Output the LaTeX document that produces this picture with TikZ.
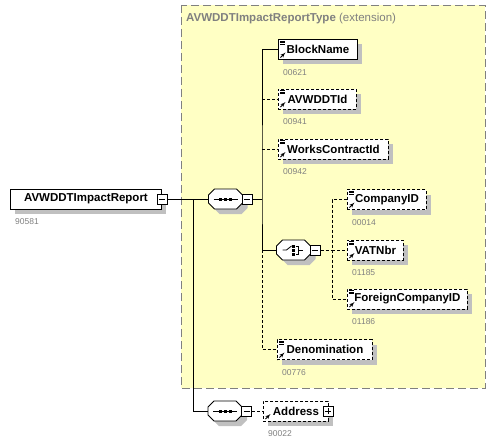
\documentclass[tikz,border=0pt]{standalone}
\usepackage{fontspec}
\setmainfont{Liberation Sans}
\usetikzlibrary{arrows}
\definecolor{extfill}{RGB}{255,255,196}
\definecolor{idgray}{RGB}{128,128,128}
\definecolor{shadowgray}{RGB}{192,192,192}
\tikzstyle{every node}=[font=\fontsize{11.5}{13}\selectfont\bfseries]
\tikzstyle{shadowfill}=[fill=shadowgray]
\tikzstyle{elem}=[rectangle,
                  draw,
                  fill=white,
                  line width=.9pt,
                  minimum height=20pt,
                  inner sep=0pt,
                  anchor=west]
\tikzstyle{ghost}=[rectangle,
                   shadowfill,
                   minimum height=20pt,
                   inner sep=0pt,
                   anchor=west]
\tikzstyle{opt}=[dash pattern=on 3pt off 2pt]
\tikzstyle{refdoc}=[path picture={
    \foreach \dy in {1.5,3,4.5}
      \draw[solid,line width=.7pt] ([xshift=1.5pt,yshift=-\dy pt]path picture bounding box.north west) -- ++(5pt,0pt);
    \draw[solid,line width=.8pt,-latex'] ([xshift=2pt,yshift=2pt]path picture bounding box.south west) -- ++(5pt,5pt);
  }]
\tikzstyle{refonly}=[path picture={
    \draw[solid,line width=.8pt,-latex'] ([xshift=2pt,yshift=2pt]path picture bounding box.south west) -- ++(5pt,5pt);
  }]
\tikzstyle{idtag}=[font=\fontsize{8.5}{10}\selectfont,
                   text=idgray,
                   anchor=west,
                   inner sep=0pt]
\tikzstyle{minusbox}=[rectangle,
                      draw,
                      fill=white,
                      line width=.8pt,
                      minimum size=10pt,
                      inner sep=0pt,
                      path picture={\draw ([xshift=2pt]path picture bounding box.west) -- ([xshift=-2pt]path picture bounding box.east);}]
\tikzstyle{plusbox}=[minusbox,
                     path picture={\draw ([xshift=2pt]path picture bounding box.west) -- ([xshift=-2pt]path picture bounding box.east);
                                   \draw ([yshift=2pt]path picture bounding box.south) -- ([yshift=-2pt]path picture bounding box.north);}]
\tikzstyle{compositor}=[rectangle,
                        minimum width=34pt,
                        minimum height=20pt,
                        inner sep=0pt]
\tikzstyle{seqbox}=[compositor, path picture={
    \draw[line width=.9pt] ([xshift=-12pt]path picture bounding box.center) -- ([xshift=12pt]path picture bounding box.center);
    \foreach \dx in {-6.5,-1.5,3.5}
      \fill ([xshift=\dx pt,yshift=-1.5pt]path picture bounding box.center) rectangle +(3pt,3pt);
  }]
\tikzstyle{choicebox}=[compositor, path picture={
    \draw[line width=.8pt] ([xshift=-11pt]path picture bounding box.center) -- ([xshift=-7pt]path picture bounding box.center) -- ([xshift=-2pt,yshift=4pt]path picture bounding box.center);
    \foreach \dy in {-5.5,-1.5,2.5}
      \fill ([xshift=-1.5pt,yshift=\dy pt]path picture bounding box.center) rectangle +(3pt,3pt);
    \draw[line width=.8pt] ([xshift=2pt,yshift=4pt]path picture bounding box.center) -- ([xshift=5pt,yshift=4pt]path picture bounding box.center)
      -- ([xshift=5pt,yshift=-4pt]path picture bounding box.center) -- ([xshift=2pt,yshift=-4pt]path picture bounding box.center);
    \draw[line width=.8pt] ([xshift=5pt]path picture bounding box.center) -- ([xshift=9pt]path picture bounding box.center);
  }]
\tikzstyle{link}=[line width=.9pt]
\tikzstyle{optlink}=[line width=.9pt, dash pattern=on 3pt off 2pt]
% octagon outline (with its shadow) of a compositor, centred at #1
\newcommand{\octagonat}[1]{%
  \begin{scope}[shift={(#1)}]
    \fill[shadowfill] (-6,-5) -- (16,-5) -- (22,1) -- (22,9) -- (16,15) -- (-6,15) -- (-12,9) -- (-12,1) -- cycle;
    \draw[fill=white,line width=.9pt] (-11,-10) -- (11,-10) -- (17,-4) -- (17,4) -- (11,10) -- (-11,10) -- (-17,4) -- (-17,-4) -- cycle;
  \end{scope}}

\begin{document}
\begin{tikzpicture}[x=1pt,y=-1pt,>=latex']
\useasboundingbox (0,0) rectangle (501,444);
% extension frame
\draw[draw=idgray, fill=extfill, line width=.9pt, dash pattern=on 8pt off 4pt] (181,5) rectangle (485,388);
\node (ext_title) [anchor=west, text=idgray, inner sep=0pt] at (186,19) {AVWDDTImpactReportType \mdseries(extension)};
% root element
\node (AVWDDTImpactReport_sh) [ghost, minimum width=151pt] at (15,204) {};
\node (AVWDDTImpactReport) [elem, minimum width=151pt] at (10,199) {AVWDDTImpactReport};
\node (tog_main) [minusbox] at (AVWDDTImpactReport.east) {};
\coordinate (split) at (193,199);
% sequence of the extension
\octagonat{225.5,199}
\node (seq_1) [seqbox] at (225.5,199) {};
\node (tog_seq_1) [minusbox, anchor=west] at ([xshift=-1pt]seq_1.east) {};
\coordinate (bus_1) at (262,199);
\node (BlockName_sh) [ghost, minimum width=79pt] at (283,54.5) {};
\node (BlockName) [elem, refdoc, minimum width=79pt] at (278,49.5) {BlockName};
\node (AVWDDTId_sh) [ghost, minimum width=78pt] at (283,104) {};
\node (AVWDDTId) [elem, opt, refdoc, minimum width=78pt] at (278,99) {AVWDDTId};
\node (WorksContractId_sh) [ghost, minimum width=110pt] at (283,154) {};
\node (WorksContractId) [elem, opt, refdoc, minimum width=110pt] at (278,149) {WorksContractId};
% choice
\octagonat{293.5,250}
\node (choice_1) [choicebox] at (293.5,250) {};
\node (tog_choice_1) [minusbox, anchor=west] at ([xshift=-1pt]choice_1.east) {};
\coordinate (bus_2) at (332,250);
\node (CompanyID_sh) [ghost, minimum width=79pt] at (352,204.5) {};
\node (CompanyID) [elem, opt, refdoc, minimum width=79pt] at (347,199.5) {CompanyID};
\node (VATNbr_sh) [ghost, minimum width=56pt] at (352,255) {};
\node (VATNbr) [elem, opt, refdoc, minimum width=56pt] at (347,250) {VATNbr};
\node (ForeignCompanyID_sh) [ghost, minimum width=120pt] at (352,304) {};
\node (ForeignCompanyID) [elem, opt, refdoc, minimum width=120pt] at (347,299) {ForeignCompanyID};
\node (Denomination_sh) [ghost, minimum width=95pt] at (282,354.5) {};
\node (Denomination) [elem, opt, refdoc, minimum width=95pt] at (277,349.5) {Denomination};
% own sequence
\octagonat{225,411}
\node (seq_2) [seqbox] at (225,411) {};
\node (tog_seq_2) [minusbox, anchor=west] at ([xshift=-1pt]seq_2.east) {};
\node (Address_sh) [ghost, minimum width=65pt] at (268,416) {};
\node (Address) [elem, opt, refonly, minimum width=65pt] at (263,411) {Address};
\node (tog_Address) [plusbox] at ([xshift=-1pt]Address.east) {};
% ids
\foreach \n/\id in {AVWDDTImpactReport/90581, BlockName/00621, AVWDDTId/00941, WorksContractId/00942,
                    CompanyID/00014, VATNbr/01185, ForeignCompanyID/01186, Denomination/00776, Address/90022}
  \node (\n_id) [idtag] at ([xshift=5pt,yshift=-12.5pt]\n.south west) {\id};
% connectors
\draw[link] (tog_main.east) -- (seq_1.west);
\draw[link] (split) |- (seq_2.west);
\draw[link] (tog_seq_1.east) -- (bus_1);
\draw[link] (BlockName.west) -| (bus_1) |- (choice_1.west);
\draw[optlink] (AVWDDTId.west -| bus_1) -- (AVWDDTId.west);
\draw[optlink] (WorksContractId.west -| bus_1) -- (WorksContractId.west);
\draw[optlink] (choice_1.west -| bus_1) |- (Denomination.west);
\draw[optlink] (tog_choice_1.east) -- (bus_2);
\draw[optlink] (CompanyID.west) -| (bus_2) |- (ForeignCompanyID.west);
\draw[optlink] (bus_2) -- (VATNbr.west);
\draw[optlink] (tog_seq_2.east) -- (Address.west);
\end{tikzpicture}
\end{document}
